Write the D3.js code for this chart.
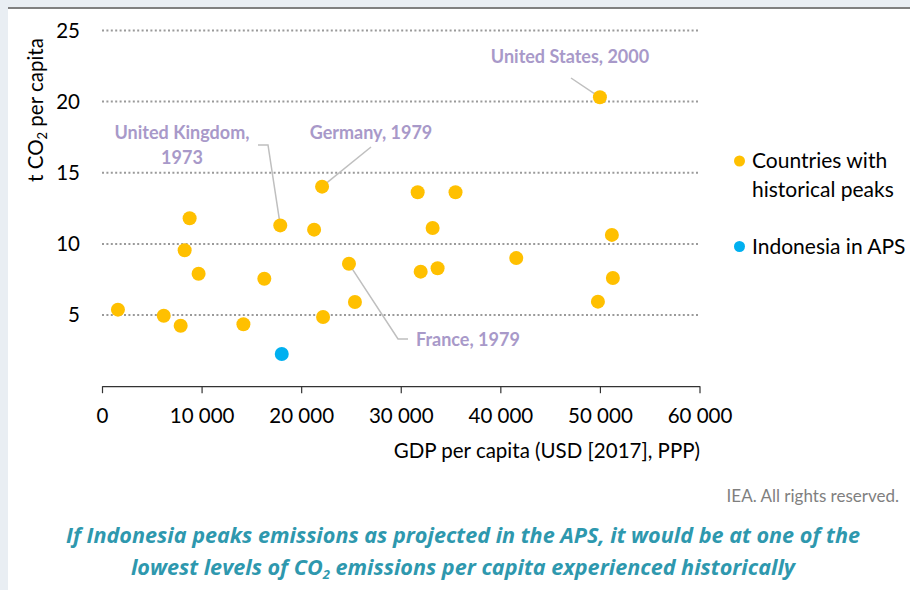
<!DOCTYPE html>
<html>
<head>
<meta charset="utf-8">
<script src="https://cdn.jsdelivr.net/npm/d3@7"></script>
<style>
  body { margin: 0; background: #e9eef3; }
  svg { display: block; }
</style>
</head>
<body>
<div id="chart"></div>
<script>
// ---- data ----
const peak_gdp = [1600, 6200, 7900, 8300, 8800, 9700, 14200, 16300, 17900, 21300, 22100, 22200,
                  24800, 25400, 31700, 32000, 33200, 33700, 35500, 41600, 49800, 50000, 51200, 51300];
const peak_co2 = [5.38, 4.95, 4.25, 9.55, 11.8, 7.9, 4.35, 7.55, 11.3, 11.0, 14.02, 4.86,
                  8.6, 5.92, 13.63, 8.05, 11.12, 8.29, 13.63, 9.0, 5.94, 20.3, 10.63, 7.6];
const indonesia_gdp = [18050];
const indonesia_co2 = [2.26];

const x_ticks = [0, 10000, 20000, 30000, 40000, 50000, 60000];
const y_ticks = [5, 10, 15, 20, 25];

// annotated peaks: label lines and the point they point to
const note_labels = [["United States, 2000"], ["Germany, 1979"], ["United Kingdom,", "1973"], ["France, 1979"]];
const note_gdp = [50000, 22100, 17900, 24800];
const note_co2 = [20.3, 14.02, 11.3, 8.6];

const legend_labels = [["Countries with", "historical peaks"], ["Indonesia in APS"]];

const caption_lines = [
    ["If Indonesia peaks emissions as projected in the APS, it would be at one of the"],
    ["lowest levels of CO", "2", " emissions per capita experienced historically"]
];

// ---- layout ----
const W = 910, H = 590;
const col_peak = "#ffc000";
const col_indo = "#00b0f0";
const col_note = "#a899c9";
const font = "Lato, 'Open Sans', sans-serif";
const font_size = 20.5;

const svg = d3.select("#chart").append("svg")
    .attr("width", W)
    .attr("height", H)
;

// background panel
svg.append("rect").attr("x", 0).attr("y", 0).attr("width", W).attr("height", H).attr("fill", "#e9eef3");
svg.append("rect").attr("x", 8).attr("y", 9).attr("width", W - 8).attr("height", H - 9).attr("fill", "#fff");
svg.append("rect").attr("x", 8).attr("y", 7).attr("width", W - 8).attr("height", 2).attr("fill", "#808080");

const x = d3.scaleLinear().domain([0, 60000]).range([102, 699.5]);
const y = d3.scaleLinear().domain([0, 25]).range([386.2, 30.4]);

// gridlines (dotted)
svg.append("g")
    .selectAll("line")
    .data(y_ticks)
    .enter()
    .append("line")
    .attr("x1", x(0))
    .attr("x2", x(60000))
    .attr("y1", d => y(d))
    .attr("y2", d => y(d))
    .attr("stroke", "#9a9a9a")
    .attr("stroke-width", 2)
    .attr("stroke-dasharray", "2,2.4")
;

// y tick labels
svg.append("g")
    .selectAll("text")
    .data(y_ticks)
    .enter()
    .append("text")
    .text(d => d)
    .attr("x", 80)
    .attr("y", d => y(d))
    .attr("dy", "0.35em")
    .attr("text-anchor", "end")
    .attr("font-family", font)
    .attr("font-size", font_size)
    .attr("fill", "#000")
;

// x axis
const fmt = d3.formatLocale({ decimal: ".", thousands: " ", grouping: [3], currency: ["", ""] }).format(",");
const x_axis = d3.axisBottom(x)
    .tickValues(x_ticks)
    .tickSize(7)
    .tickSizeOuter(0)
    .tickPadding(15)
    .tickFormat(fmt)
;
const gx = svg.append("g")
    .attr("transform", "translate(0," + y(0) + ")")
    .call(x_axis)
;
gx.select(".domain").attr("stroke", "#333").attr("stroke-width", 1.2);
gx.selectAll(".tick line").attr("stroke", "#333").attr("stroke-width", 1.2);
gx.selectAll(".tick text")
    .attr("font-family", font)
    .attr("font-size", font_size)
    .attr("fill", "#000")
;

// axis titles
svg.append("text")
    .text("GDP per capita (USD [2017], PPP)")
    .attr("x", 700)
    .attr("y", 451)
    .attr("dy", "0.35em")
    .attr("text-anchor", "end")
    .attr("font-family", font)
    .attr("font-size", font_size)
    .attr("fill", "#000")
;
const y_title = svg.append("text")
    .attr("transform", "translate(43,110) rotate(-90)")
    .attr("text-anchor", "middle")
    .attr("font-family", font)
    .attr("font-size", font_size)
    .attr("fill", "#000")
;
y_title.append("tspan").text("t CO");
y_title.append("tspan").text("2").attr("font-size", 13).attr("dy", 4);
y_title.append("tspan").text(" per capita").attr("dy", -4);

// leader lines: label end -> point (pixel bends per note)
const note_layout = [
    { y: 57, anchor: "middle", tx: 570, path: [[571, 78]] },
    { y: 133, anchor: "middle", tx: 371, path: [[371, 147]] },
    { y: 133, anchor: "middle", tx: 182, path: [[258, 145], [268, 145]] },
    { y: 340, anchor: "start", tx: 416, path: [[408, 339], [398, 339]] }
];
note_labels.forEach(function(lines, i){
    const L = note_layout[i];
    const pts = L.path.concat([[x(note_gdp[i]), y(note_co2[i])]]);
    svg.append("path")
        .attr("d", d3.line()(pts))
        .attr("fill", "none")
        .attr("stroke", "#bfbfbf")
        .attr("stroke-width", 1.5)
    ;
    const t = svg.append("text")
        .attr("text-anchor", L.anchor)
        .attr("font-family", font)
        .attr("font-weight", 700)
        .attr("font-size", 18)
        .attr("fill", col_note)
    ;
    lines.forEach(function(s, j){
        t.append("tspan").text(s).attr("x", L.tx).attr("y", L.y + j * 25).attr("dy", "0.35em");
    });
});

// points
svg.append("g")
    .selectAll("circle")
    .data(d3.range(peak_gdp.length))
    .enter()
    .append("circle")
    .attr("cx", i => x(peak_gdp[i]))
    .attr("cy", i => y(peak_co2[i]))
    .attr("r", 7)
    .attr("fill", col_peak)
;
svg.append("g")
    .selectAll("circle")
    .data(d3.range(indonesia_gdp.length))
    .enter()
    .append("circle")
    .attr("cx", i => x(indonesia_gdp[i]))
    .attr("cy", i => y(indonesia_co2[i]))
    .attr("r", 7)
    .attr("fill", col_indo)
;

// legend
const legend_y = [161, 246.5];
const legend_col = [col_peak, col_indo];
legend_labels.forEach(function(lines, i){
    svg.append("circle")
        .attr("cx", 739.5)
        .attr("cy", legend_y[i])
        .attr("r", 5.5)
        .attr("fill", legend_col[i])
    ;
    const t = svg.append("text")
        .attr("font-family", font)
        .attr("font-size", 21)
        .attr("fill", "#000")
    ;
    lines.forEach(function(s, j){
        t.append("tspan").text(s).attr("x", 752).attr("y", legend_y[i] + j * 29).attr("dy", "0.35em");
    });
});

// source + caption
svg.append("text")
    .text("IEA. All rights reserved.")
    .attr("x", 899)
    .attr("y", 496)
    .attr("dy", "0.35em")
    .attr("text-anchor", "end")
    .attr("font-family", font)
    .attr("font-size", 17)
    .attr("fill", "#7f7f7f")
;
const caption_y = [535, 567];
caption_lines.forEach(function(parts, i){
    const t = svg.append("text")
        .attr("x", 463)
        .attr("y", caption_y[i])
        .attr("dy", "0.35em")
        .attr("text-anchor", "middle")
        .attr("font-family", "'Open Sans', sans-serif")
        .attr("font-style", "italic")
        .attr("font-weight", 700)
        .attr("font-size", 21.6)
        .attr("fill", "#2e98ae")
    ;
    parts.forEach(function(s, j){
        const sp = t.append("tspan").text(s);
        if (s === "2") sp.attr("font-size", 13).attr("dy", 4);
        else if (j > 0 && parts[j - 1] === "2") sp.attr("dy", -4);
    });
});
</script>
</body>
</html>
